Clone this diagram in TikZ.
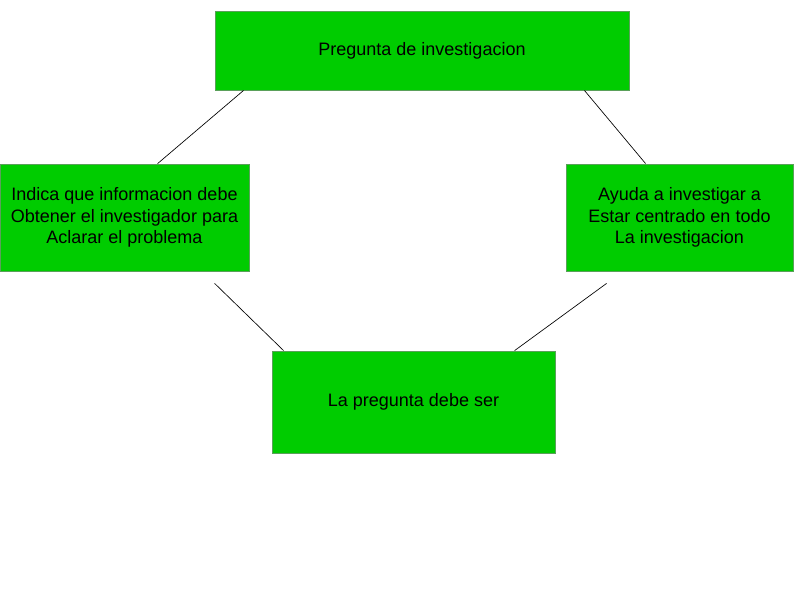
\documentclass[tikz,border=0pt]{standalone}
\usepackage{fontspec}
\setmainfont{Liberation Sans}
\definecolor{boxgreen}{RGB}{0,204,0}
\definecolor{boxedge}{RGB}{90,160,90}

\begin{document}
\begin{tikzpicture}[x=0.75pt, y=-0.75pt,
        greenbox/.style={fill=boxgreen, draw=boxedge, line width=0.6pt, align=center, inner sep=0pt, font=\fontsize{13.5}{16.2}\selectfont},
        link/.style={line width=0.5pt, black}]
    \useasboundingbox (0, 0) rectangle (794, 595);

    \node[greenbox, minimum width=310.5pt, minimum height=59.25pt] (pregunta) at (422, 50.5) {Pregunta de investigacion};
    \node[greenbox, minimum width=186.75pt, minimum height=80.25pt] (indica) at (124.5, 217.5) {Indica que informacion debe\\Obtener el investigador para\\Aclarar el problema};
    \node[greenbox, minimum width=170.25pt, minimum height=80.25pt] (ayuda) at (679.5, 217.5) {Ayuda a investigar a\\Estar centrado en todo\\La investigacion};
    \node[greenbox, minimum width=212.25pt, minimum height=76.5pt] (debeser) at (413.5, 402) {La pregunta debe ser};

    \draw[link] ([xshift=21.75pt]pregunta.south west) -- ([xshift=118.5pt]indica.north west);
    \draw[link] ([xshift=-33.75pt]pregunta.south east) -- ([xshift=60pt]ayuda.north west);
    \draw[link] ([xshift=161.25pt, yshift=-9pt]indica.south west) -- ([xshift=9pt]debeser.north west);
    \draw[link] ([xshift=30.75pt, yshift=-9pt]ayuda.south west) -- ([xshift=182.25pt]debeser.north west);
\end{tikzpicture}
\end{document}
